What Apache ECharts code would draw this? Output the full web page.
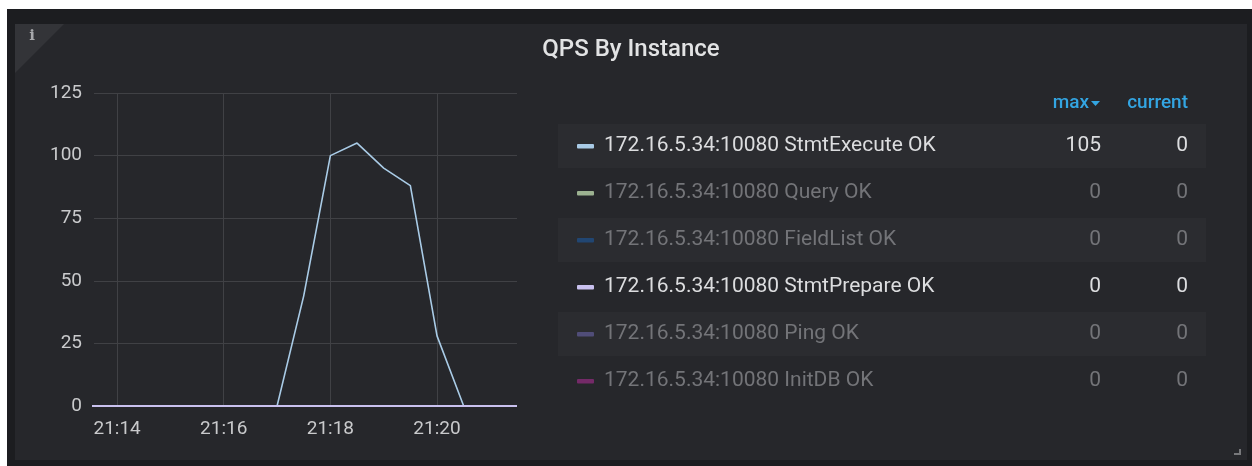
<!DOCTYPE html>
<html>
<head>
<meta charset="utf-8">
<title>QPS By Instance</title>
<script src="https://cdn.jsdelivr.net/npm/echarts@6/dist/echarts.min.js"></script>
<style>
  html, body { margin: 0; padding: 0; background: #ffffff; }
  #chart { width: 1252px; height: 466px; }
</style>
</head>
<body>
<div id="chart"></div>
<script>
// Sample times (30 s step) and per-instance QPS values
const times = ['21:13:30', '21:14:00', '21:14:30', '21:15:00', '21:15:30', '21:16:00',
  '21:16:30', '21:17:00', '21:17:30', '21:18:00', '21:18:30', '21:19:00', '21:19:30',
  '21:20:00', '21:20:30', '21:21:00', '21:21:30'];
const stmtExecute = [0, 0, 0, 0, 0, 0, 0, 0, 44, 100, 105, 95, 88, 28, 0, 0, 0];
const stmtPrepare = [0, 0, 0, 0, 0, 0, 0, 0, 0, 0, 0, 0, 0, 0, 0, 0, 0];

// Visible time window
const windowStart = '21:13:34';
const windowEnd = '21:21:30';

// Legend table
const legendNames = [
  '172.16.5.34:10080 StmtExecute OK',
  '172.16.5.34:10080 Query OK',
  '172.16.5.34:10080 FieldList OK',
  '172.16.5.34:10080 StmtPrepare OK',
  '172.16.5.34:10080 Ping OK',
  '172.16.5.34:10080 InitDB OK'
];
const legendMax = ['105', '0', '0', '0', '0', '0'];
const legendCurrent = ['0', '0', '0', '0', '0', '0'];
const legendActive = [true, false, false, true, false, false];
const legendColors = ['#a9cbe6', '#c4e2b4', '#1f4f88', '#c9c1ef', '#5d5890', '#8f2c7d'];
const legendHeaders = ['max', 'current'];

// "HH:MM:SS" -> minutes of the day
function toMinutes(t) {
  const p = t.split(':').map(Number);
  return p[0] * 60 + p[1] + (p[2] || 0) / 60;
}
function fmtMinutes(v) {
  const h = Math.floor(v / 60);
  const m = Math.round(v - h * 60);
  return h + ':' + (m < 10 ? '0' : '') + m;
}

const xs = times.map(toMinutes);
const pairs = arr => arr.map((v, i) => [xs[i], v]);

const FONT = 'Roboto, "Noto Sans", sans-serif';
const chart = echarts.init(document.getElementById('chart'), null, { renderer: 'canvas' });

// Panel frame, info corner and resize handle
const graphics = [
  { type: 'rect', shape: { x: 7, y: 9, width: 1245, height: 457 }, style: { fill: '#1c1d20' }, z: -10 },
  { type: 'rect', shape: { x: 15, y: 24, width: 1232, height: 436 }, style: { fill: '#26272b' }, z: -9 },
  { type: 'polygon', shape: { points: [[15, 24], [64, 24], [15, 73]] }, style: { fill: '#333438' }, z: -8 },
  { type: 'text', x: 32, y: 36, style: { text: 'i', fill: '#a7a8ab', font: 'bold 15px "DejaVu Serif", serif', align: 'center', verticalAlign: 'middle' }, z: 5 },
  { type: 'polyline', shape: { points: [[1240, 449], [1240, 454], [1234, 454]] }, style: { stroke: '#77787b', lineWidth: 2, fill: null }, z: 5 },
  { type: 'text', x: 631, y: 50, style: { text: 'QPS By Instance', fill: '#e2e3e4', font: '500 24px ' + FONT, align: 'center', verticalAlign: 'middle' }, z: 5 }
];

// Legend table geometry
const rowY0 = 146, rowStep = 47;
const maxRight = 1101, curRight = 1188;
graphics.push({ type: 'text', x: maxRight - 12, y: 103, style: { text: legendHeaders[0], fill: '#33a5e2', font: '500 19px ' + FONT, align: 'right', verticalAlign: 'middle' }, z: 5 });
graphics.push({ type: 'polygon', shape: { points: [[maxRight - 10, 101], [maxRight - 1, 101], [maxRight - 5.5, 106]] }, style: { fill: '#33a5e2' }, z: 5 });
graphics.push({ type: 'text', x: curRight, y: 103, style: { text: legendHeaders[1], fill: '#33a5e2', font: '500 19px ' + FONT, align: 'right', verticalAlign: 'middle' }, z: 5 });

legendNames.forEach((name, i) => {
  const y = rowY0 + i * rowStep;
  const textColor = legendActive[i] ? '#dcdddf' : '#737478';
  if (i % 2 === 0) {
    graphics.push({ type: 'rect', shape: { x: 558, y: y - 22, width: 648, height: 44 }, style: { fill: '#2b2c30' }, z: -7 });
  }
  graphics.push({ type: 'rect', shape: { x: 577, y: y - 2, width: 17, height: 4.5, r: 1 }, style: { fill: legendColors[i], opacity: legendActive[i] ? 1 : 0.75 }, z: 5 });
  graphics.push({ type: 'text', x: 604, y: y, style: { text: name, fill: textColor, font: '21px ' + FONT, align: 'left', verticalAlign: 'middle' }, z: 5 });
  graphics.push({ type: 'text', x: maxRight, y: y, style: { text: legendMax[i], fill: textColor, font: '21px ' + FONT, align: 'right', verticalAlign: 'middle' }, z: 5 });
  graphics.push({ type: 'text', x: curRight, y: y, style: { text: legendCurrent[i], fill: textColor, font: '21px ' + FONT, align: 'right', verticalAlign: 'middle' }, z: 5 });
});

const option = {
  animation: false,
  backgroundColor: '#ffffff',
  textStyle: { fontFamily: FONT },
  grid: { left: 94, right: 735, top: 93, bottom: 60, containLabel: false },
  xAxis: {
    type: 'value',
    min: toMinutes(windowStart),
    max: toMinutes(windowEnd),
    splitNumber: 4,
    minInterval: 2,
    maxInterval: 2,
    axisLine: { show: false },
    axisTick: { show: false },
    axisLabel: {
      color: '#c9cacc', fontSize: 19, margin: 14, fontFamily: FONT,
      showMinLabel: false, showMaxLabel: false,
      formatter: v => fmtMinutes(v)
    },
    splitLine: { show: true, showMinLine: false, showMaxLine: false, lineStyle: { color: '#404145', width: 1 } }
  },
  yAxis: {
    type: 'value',
    min: 0,
    max: 125,
    interval: 25,
    axisLine: { show: false },
    axisTick: { show: false },
    axisLabel: { color: '#c9cacc', fontSize: 19, margin: 12, fontFamily: FONT },
    splitLine: { show: true, lineStyle: { color: '#404145', width: 1 } }
  },
  series: [
    {
      name: legendNames[0], type: 'line', data: pairs(stmtExecute),
      symbol: 'none', clip: true,
      lineStyle: { color: legendColors[0], width: 1.6 }, z: 3
    },
    {
      name: legendNames[3], type: 'line', data: pairs(stmtPrepare),
      symbol: 'none', clip: true,
      lineStyle: { color: legendColors[3], width: 2.2 }, z: 4
    }
  ],
  graphic: graphics
};
chart.setOption(option);
</script>
</body>
</html>
